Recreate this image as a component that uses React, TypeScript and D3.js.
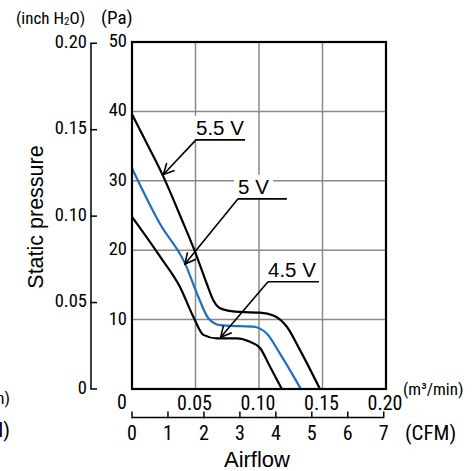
import React, { useEffect, useRef } from 'react';
import * as d3 from 'd3';

const W = 473;
const H = 471;

// Axis ticks
const PA_TICKS = [10, 20, 30, 40, 50];
const INCH_TICKS = [0, 0.05, 0.1, 0.15, 0.2];
const INCH_LABELS = ['0', '0.05', '0.10', '0.15', '0.20'];
const M3_TICKS = [0.05, 0.1, 0.15, 0.2];
const M3_LABELS = ['0.05', '0.10', '0.15', '0.20'];
const CFM_TICKS = [0, 1, 2, 3, 4, 5, 6, 7];
const GRID_X = [0.05, 0.1, 0.15];
const GRID_Y = [10, 20, 30, 40];

// Series (airflow m3/min, static pressure Pa)
const flow55 = [0, 0.0125, 0.0247, 0.039, 0.0496, 0.0588, 0.064, 0.068, 0.0732, 0.085, 0.1008, 0.1113, 0.1218, 0.1323, 0.148];
const pres55 = [39.6, 35.1, 30.6, 24.5, 19.8, 15.2, 12.8, 11.8, 11.4, 11.1, 11.0, 10.6, 9.0, 5.6, 0];
const flow50 = [0, 0.022, 0.0417, 0.0522, 0.0601, 0.0693, 0.085, 0.0955, 0.1008, 0.1061, 0.1165, 0.133];
const pres50 = [31.8, 23.8, 18.1, 13.3, 10.2, 9.2, 9.05, 9.0, 8.7, 8.0, 5.1, 0];
const flow45 = [0, 0.022, 0.0378, 0.0483, 0.0562, 0.0667, 0.0824, 0.0929, 0.1008, 0.1087, 0.118];
const pres45 = [24.8, 19.1, 14.7, 10.4, 7.8, 7.3, 7.3, 6.8, 5.9, 3.2, 0];

const SERIES = [
  { name: '5.5 V', flow: flow55, pres: pres55, color: '#000000' },
  { name: '5 V', flow: flow50, pres: pres50, color: '#1f6fbf' },
  { name: '4.5 V', flow: flow45, pres: pres45, color: '#000000' },
];

// Annotations: label underline start/end (data), arrow tip (data)
const ANNOT_LABELS = ['5.5 V', '5 V', '4.5 V'];
const ANNOT_X0 = [0.0504, 0.0835, 0.1071];
const ANNOT_X1 = [0.089, 0.122, 0.1472];
const ANNOT_Y = [35.9, 27.4, 15.46];
const ANNOT_TIP_X = [0.0247, 0.0417, 0.0698];
const ANNOT_TIP_Y = [30.9, 18.0, 7.45];

const PA_PER_INCH = 249.089;
const M3_PER_CFM = 0.0283168;

const NARROW = "'Liberation Sans Narrow', 'Roboto Condensed', 'DejaVu Sans Condensed', 'Liberation Sans', sans-serif";
const SANS = "'Liberation Sans', Arial, sans-serif";

export default function App() {
  const ref = useRef<SVGSVGElement>(null);

  useEffect(() => {
    const svg = d3.select(ref.current);
    svg.selectAll('*').remove();

    const x = d3.scaleLinear().domain([0, 0.2]).range([132, 386]);
    const y = d3.scaleLinear().domain([0, 50]).range([389, 42]);
    const yIn = (v: number) => y(v * PA_PER_INCH);
    const xCfm = (v: number) => x(v * M3_PER_CFM);

    svg.append('rect').attr('width', W).attr('height', H).attr('fill', '#fff');

    // grid
    const grid = svg.append('g').attr('stroke', '#8a8a8a').attr('stroke-width', 1.5);
    GRID_X.forEach((v) => {
      grid.append('line').attr('x1', x(v)).attr('x2', x(v)).attr('y1', y(0)).attr('y2', y(50));
    });
    GRID_Y.forEach((v) => {
      grid.append('line').attr('x1', x(0)).attr('x2', x(0.2)).attr('y1', y(v)).attr('y2', y(v));
    });

    // annotation labels with white backgrounds
    const ann = svg.append('g');
    ANNOT_LABELS.forEach((lab, i) => {
      const g = ann.append('g');
      const t = g
        .append('text')
        .attr('x', x(ANNOT_X0[i]))
        .attr('y', y(ANNOT_Y[i]) - 5)
        .attr('font-family', SANS)
        .attr('font-size', 20.5)
        .attr('fill', '#000')
        .text(lab);
      const bb = (t.node() as SVGTextElement).getBBox();
      g.insert('rect', 'text')
        .attr('x', bb.x - 4)
        .attr('y', bb.y)
        .attr('width', bb.width + 8)
        .attr('height', y(ANNOT_Y[i]) - bb.y - 1)
        .attr('fill', '#fff');
    });

    // curves
    const line = d3
      .line<[number, number]>()
      .x((d) => x(d[0]))
      .y((d) => y(d[1]))
      .curve(d3.curveMonotoneX);
    SERIES.forEach((s) => {
      const pts: [number, number][] = s.flow.map((f, i) => [f, s.pres[i]]);
      svg
        .append('path')
        .attr('d', line(pts))
        .attr('fill', 'none')
        .attr('stroke', s.color)
        .attr('stroke-width', 2.2)
        .attr('stroke-linejoin', 'round');
    });

    // arrows + underlines
    const ar = svg.append('g').attr('stroke', '#000').attr('stroke-width', 1.6).attr('fill', 'none');
    ANNOT_LABELS.forEach((_, i) => {
      const sx = x(ANNOT_X0[i]);
      const sy = y(ANNOT_Y[i]);
      const ex = x(ANNOT_X1[i]);
      const tx = x(ANNOT_TIP_X[i]);
      const ty = y(ANNOT_TIP_Y[i]);
      ar.append('line').attr('x1', sx).attr('x2', ex).attr('y1', sy).attr('y2', sy);
      ar.append('line').attr('x1', sx).attr('x2', tx).attr('y1', sy).attr('y2', ty);
      const ang = Math.atan2(sy - ty, sx - tx);
      const L = 12;
      const a = (27 * Math.PI) / 180;
      const p1 = [tx + L * Math.cos(ang + a), ty + L * Math.sin(ang + a)];
      const p2 = [tx + L * Math.cos(ang - a), ty + L * Math.sin(ang - a)];
      ar.append('path').attr('d', `M${p1[0]},${p1[1]}L${tx},${ty}L${p2[0]},${p2[1]}`);
    });

    // frame
    svg
      .append('rect')
      .attr('x', x(0))
      .attr('y', y(50))
      .attr('width', x(0.2) - x(0))
      .attr('height', y(0) - y(50))
      .attr('fill', 'none')
      .attr('stroke', '#000')
      .attr('stroke-width', 2.2);

    // Pa labels
    PA_TICKS.forEach((v) => {
      svg
        .append('text')
        .attr('x', x(0) - 5)
        .attr('y', y(v) + 5)
        .attr('text-anchor', 'end')
        .attr('font-family', NARROW)
        .attr('font-size', 18.5)
        .text(String(v));
    });

    // inch axis
    const axX = 91;
    svg
      .append('line')
      .attr('x1', axX)
      .attr('x2', axX)
      .attr('y1', yIn(0.2))
      .attr('y2', yIn(0))
      .attr('stroke', '#000')
      .attr('stroke-width', 1.5);
    INCH_TICKS.forEach((v, i) => {
      svg
        .append('line')
        .attr('x1', axX - 0.75)
        .attr('x2', axX + 6)
        .attr('y1', yIn(v))
        .attr('y2', yIn(v))
        .attr('stroke', '#000')
        .attr('stroke-width', 1.5);
      svg
        .append('text')
        .attr('x', axX - 4)
        .attr('y', yIn(v) + 4.5)
        .attr('text-anchor', 'end')
        .attr('font-family', NARROW)
        .attr('font-size', 18.5)
        .text(INCH_LABELS[i]);
    });

    // m3/min labels
    M3_TICKS.forEach((v, i) => {
      svg
        .append('text')
        .attr('x', x(v) - 1)
        .attr('y', 410)
        .attr('text-anchor', 'middle')
        .attr('font-family', NARROW)
        .attr('font-size', 20)
        .text(M3_LABELS[i]);
    });
    svg
      .append('text')
      .attr('x', x(0) - 10)
      .attr('y', 408.5)
      .attr('text-anchor', 'middle')
      .attr('font-family', NARROW)
      .attr('font-size', 20)
      .text('0');
    svg
      .append('text')
      .attr('x', 403)
      .attr('y', 395)
      .attr('font-family', NARROW)
      .attr('font-size', 17)
      .text('(m³/min)');

    // CFM axis
    const cfmY = 417.5;
    svg
      .append('line')
      .attr('x1', xCfm(0))
      .attr('x2', xCfm(7))
      .attr('y1', cfmY)
      .attr('y2', cfmY)
      .attr('stroke', '#000')
      .attr('stroke-width', 1.5);
    CFM_TICKS.forEach((v) => {
      svg
        .append('line')
        .attr('x1', xCfm(v))
        .attr('x2', xCfm(v))
        .attr('y1', cfmY + 0.75)
        .attr('y2', cfmY - 6)
        .attr('stroke', '#000')
        .attr('stroke-width', 1.5);
      svg
        .append('text')
        .attr('x', xCfm(v))
        .attr('y', 439.5)
        .attr('text-anchor', 'middle')
        .attr('font-family', NARROW)
        .attr('font-size', 20)
        .text(String(v));
    });
    svg
      .append('text')
      .attr('x', 405)
      .attr('y', 439.5)
      .attr('font-family', NARROW)
      .attr('font-size', 21)
      .text('(CFM)');

    // cut-off unit labels on the left edge
    svg
      .append('text')
      .attr('x', 10)
      .attr('y', 404)
      .attr('text-anchor', 'end')
      .attr('font-family', NARROW)
      .attr('font-size', 17)
      .text('(m³/min)');
    svg
      .append('text')
      .attr('x', 10)
      .attr('y', 437)
      .attr('text-anchor', 'end')
      .attr('font-family', NARROW)
      .attr('font-size', 21)
      .text('(CFM)');

    // axis titles / units
    const inch = svg
      .append('text')
      .attr('x', 16)
      .attr('y', 24)
      .attr('font-family', NARROW)
      .attr('font-size', 17);
    inch.append('tspan').text('(inch H');
    inch.append('tspan').attr('font-size', 11).attr('dy', 1).text('2');
    inch.append('tspan').attr('dy', -1).text('O)');
    svg
      .append('text')
      .attr('x', 101)
      .attr('y', 24)
      .attr('font-family', NARROW)
      .attr('font-size', 19)
      .text('(Pa)');

    svg
      .append('text')
      .attr('transform', 'translate(43,217) rotate(-90)')
      .attr('text-anchor', 'middle')
      .attr('font-family', SANS)
      .attr('font-size', 21.5)
      .text('Static pressure');
    svg
      .append('text')
      .attr('x', 257)
      .attr('y', 467)
      .attr('text-anchor', 'middle')
      .attr('font-family', SANS)
      .attr('font-size', 22)
      .text('Airflow');
  }, []);

  return (
    <svg
      ref={ref}
      width={W}
      height={H}
      style={{ position: 'absolute', left: 0, top: 0, background: '#fff' }}
    />
  );
}
